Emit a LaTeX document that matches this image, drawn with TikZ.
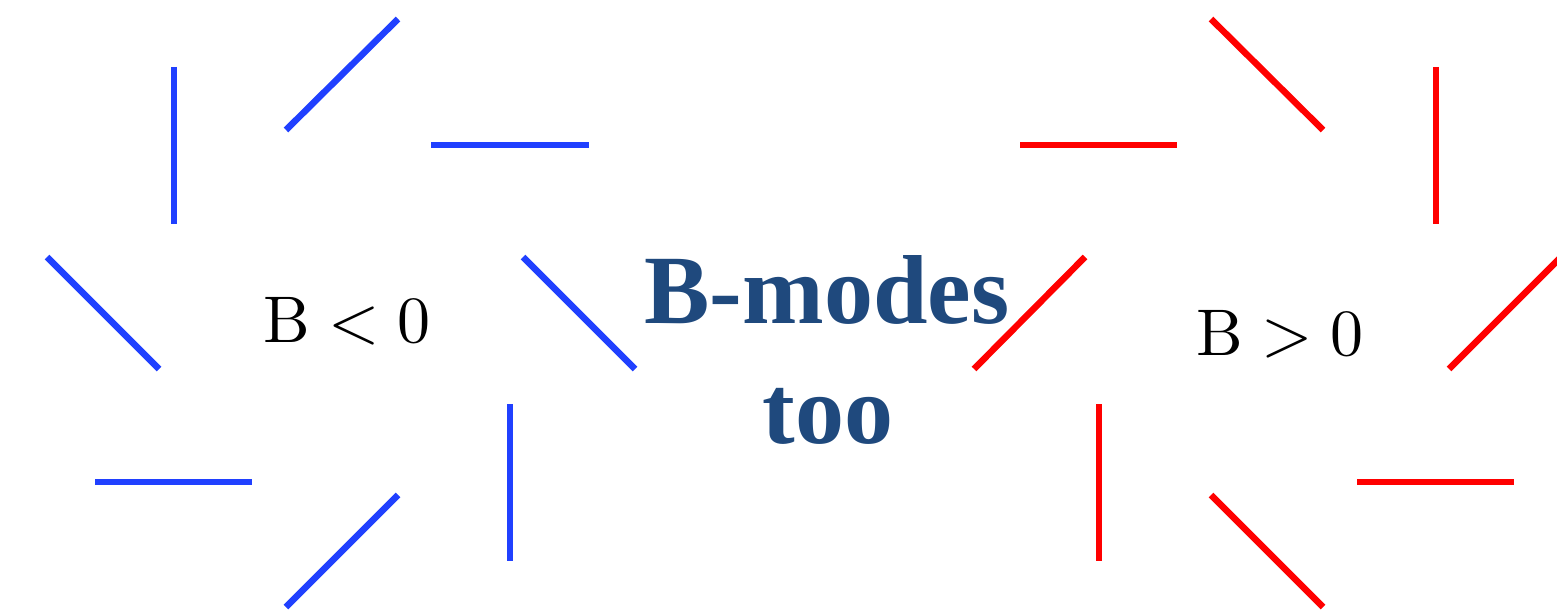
\documentclass[tikz,border=0pt]{standalone}
\usepackage{fontspec}
\newfontfamily\bmfont{Liberation Serif Bold}
\newfontfamily\lmten{lmroman10-regular}[Extension=.otf]
\definecolor{stickblue}{RGB}{32,64,255}
\definecolor{stickred}{RGB}{255,0,0}
\definecolor{titleblue}{RGB}{31,73,125}
\tikzset{
  bstick/.style={draw=stickblue, line width=6.5pt},
  rstick/.style={draw=stickred, line width=6.5pt},
  signlabel/.style={anchor=base, inner sep=0pt, text=black, font=\lmten\fontsize{66}{79}\selectfont},
  titletext/.style={anchor=base, inner sep=0pt, text=titleblue, font=\bmfont\fontsize{98}{118}\selectfont}
}
\begin{document}
\begin{tikzpicture}[x=1pt,y=-1pt]
\useasboundingbox (0,0) rectangle (1557,612);
\clip (0,0) rectangle (1557,612);
% blue sticks (B < 0)
\draw[bstick] (174,67) -- (174,224);
\draw[bstick] (286,130) -- (398,19);
\draw[bstick] (431,145) -- (589,145);
\draw[bstick] (47,257) -- (159,369);
\draw[bstick] (523,257) -- (635,369);
\draw[bstick] (95,482) -- (252,482);
\draw[bstick] (286,607) -- (398,495);
\draw[bstick] (510,404) -- (510,561);
% red sticks (B > 0)
\draw[rstick] (1211,19) -- (1323,130);
\draw[rstick] (1436,67) -- (1436,224);
\draw[rstick] (1020,145) -- (1177,145);
\draw[rstick] (974,369) -- (1085,257);
\draw[rstick] (1449,369) -- (1561,257);
\draw[rstick] (1099,404) -- (1099,561);
\draw[rstick] (1357,482) -- (1514,482);
\draw[rstick] (1211,495) -- (1323,607);
% labels
\node[signlabel] (neg) at (347,342) {B\hspace{0.278em}<\hspace{0.278em}0};
\node[signlabel] (pos) at (1280,355) {B\hspace{0.278em}>\hspace{0.278em}0};
\node[titletext] (bm1) at (827,323) {B-modes};
\node[titletext] (bm2) at (828,443) {too};
\end{tikzpicture}
\end{document}
